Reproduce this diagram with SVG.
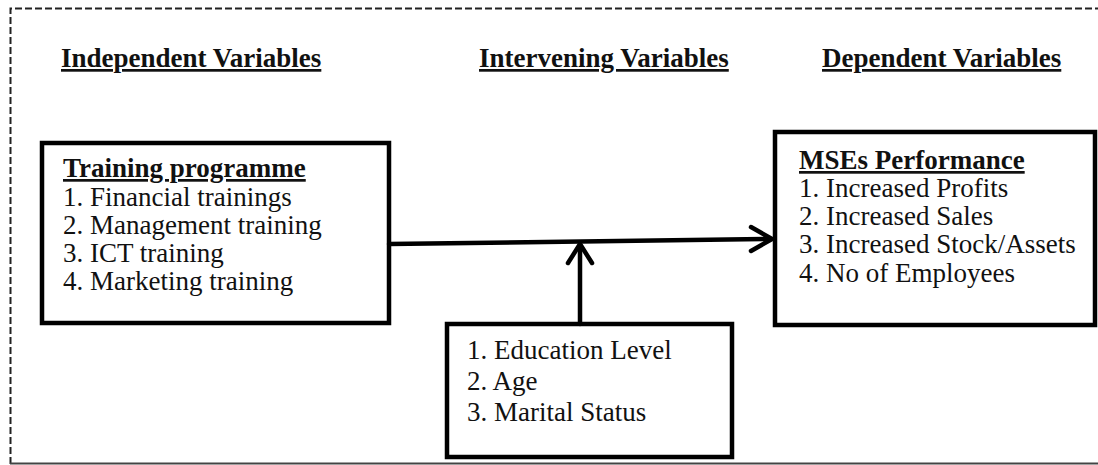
<svg xmlns="http://www.w3.org/2000/svg" width="1098" height="465" viewBox="0 0 1098 465">
<style>
text{font-family:"Liberation Serif","Times New Roman",serif;font-size:27px;fill:#111}
.h{font-weight:bold;text-decoration:underline}
.box{fill:#fff;stroke:#000;stroke-width:4.5}
.conn{fill:none;stroke:#000;stroke-width:4.5;stroke-linecap:round;stroke-linejoin:round}
</style>
<rect width="1098" height="465" fill="#fff"/>
<g id="frame">
<path d="M10.5,464 V8.5 H1098" fill="none" stroke="#222" stroke-width="2" stroke-dasharray="7 3"/>
<line x1="10" y1="463.5" x2="1098" y2="463.5" stroke="#444" stroke-width="2"/>
</g>
<g id="headers">
<text class="h" x="61" y="67">Independent Variables</text>
<text class="h" x="479" y="67">Intervening Variables</text>
<text class="h" x="822" y="67">Dependent Variables</text>
</g>
<g id="training">
<rect class="box" x="42" y="143" width="347" height="180"/>
<text class="h" x="63" y="177">Training programme</text>
<text x="63" y="206">1. Financial trainings</text>
<text x="63" y="234">2. Management training</text>
<text x="63" y="262">3. ICT training</text>
<text x="63" y="290">4. Marketing training</text>
</g>
<g id="performance">
<rect class="box" x="775" y="132" width="320" height="193"/>
<text class="h" x="799" y="169">MSEs Performance</text>
<text x="799" y="197">1. Increased Profits</text>
<text x="799" y="225">2. Increased Sales</text>
<text x="799" y="253">3. Increased Stock/Assets</text>
<text x="799" y="282">4. No of Employees</text>
</g>
<g id="intervening">
<rect class="box" x="447" y="324" width="285" height="133"/>
<text x="467" y="359">1. Education Level</text>
<text x="467" y="390">2. Age</text>
<text x="467" y="421">3. Marital Status</text>
</g>
<g id="connectors">
<line class="conn" x1="389" y1="244" x2="771" y2="239"/>
<polyline class="conn" points="751,227 772,239 751,251"/>
<line class="conn" x1="580" y1="324" x2="580" y2="245"/>
<polyline class="conn" points="568,263 580,244 592,263"/>
</g>
</svg>
